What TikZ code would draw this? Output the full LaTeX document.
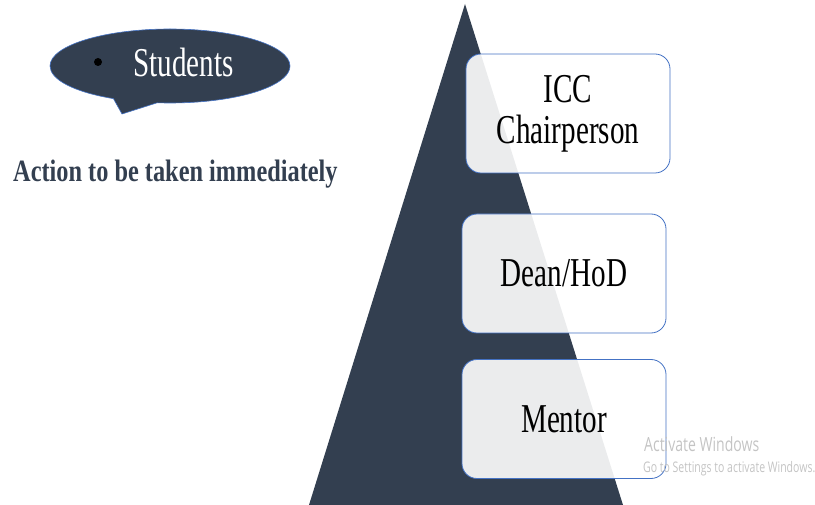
\documentclass[tikz,border=0pt]{standalone}
\usepackage{fontspec}
\usepackage{xcolor}
\usepackage{tikz}
\usetikzlibrary{shapes.callouts}
\setmainfont{Liberation Serif}
\newfontfamily\narrowserif[FakeStretch=0.71]{Liberation Serif}
\newfontfamily\actionfont[FakeStretch=0.785]{Liberation Serif}
\newfontfamily\narrowsans[FakeStretch=0.72]{Open Sans}
\definecolor{slate}{HTML}{333F50}
\definecolor{boxline}{HTML}{4472C4}
\definecolor{wmgray}{HTML}{C4C4C4}

\begin{document}
\begin{tikzpicture}[x=1pt,y=-1pt,
	level/.style={draw=boxline, line width=0.8pt, fill=white, fill opacity=0.9, text opacity=1,
		rounded corners=15pt, minimum width=204pt, minimum height=119pt, inner sep=0pt,
		align=center, font=\narrowserif\fontsize{41}{41}\selectfont},
	watermark/.style={anchor=base west, inner sep=0pt, text=wmgray}]
			\useasboundingbox (0,0) rectangle (815,505);
			% pyramid
			\fill[slate] (465,4) -- (623,505) -- (309,505) -- cycle;
			% speech bubble
			\node[ellipse callout, fill=slate, draw=boxline, line width=0.6pt, inner sep=0pt,
				minimum width=240pt, minimum height=74pt, callout pointer arc=22,
				callout absolute pointer={(122,114)}] (bubble) at (170,66) {};
			\node[circle, fill=black, inner sep=0pt, minimum size=8pt] (dot) at (98,62) {};
			\node[anchor=base west, inner sep=0pt, text=white,
				font=\narrowserif\fontsize{41}{41}\selectfont] (students) at (133,77) {Students};
			\node[anchor=base west, inner sep=0pt, text=slate,
				font=\actionfont\bfseries\fontsize{31}{31}\selectfont] (action) at (13,182) {Action to be taken immediately};
			% levels
			\node[level] (icc) at (568,113.5) {ICC\\Chairperson};
			\node[level] (dean) at (564,273.5) {Dean/HoD};
			\node[level] (mentor) at (564,419) {Mentor};
			% watermark
			\node[watermark, font=\narrowsans\fontsize{19.5}{20}\selectfont] (activate) at (644,452) {Activate Windows};
			\node[watermark, font=\narrowsans\fontsize{14.6}{15}\selectfont] (settings) at (643,472) {Go to Settings to activate Windows.};
		\end{tikzpicture}
\end{document}
